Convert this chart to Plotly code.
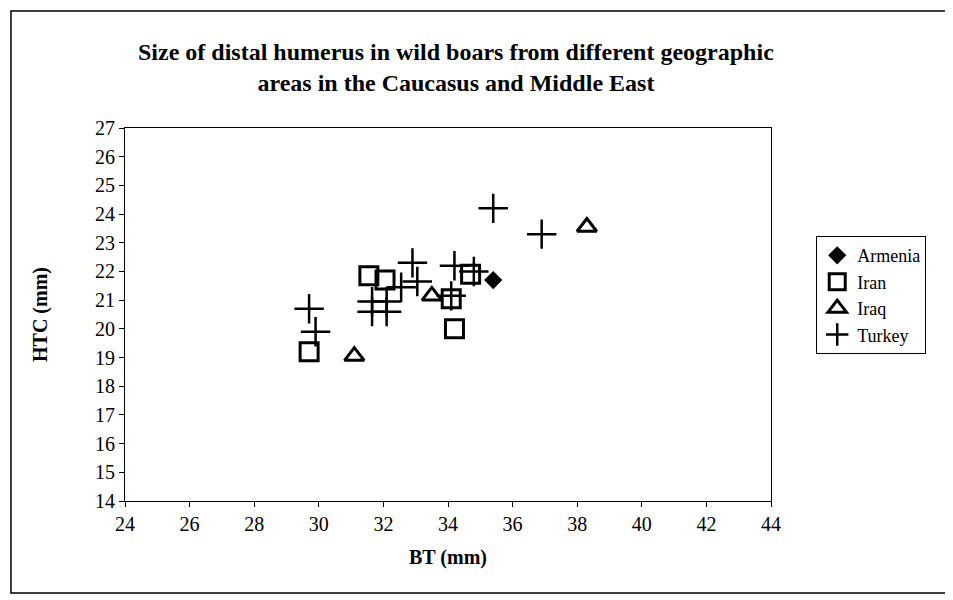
import plotly.graph_objects as go

# BT (mm) and HTC (mm)
armenia_bt = [35.4]
armenia_htc = [21.7]

iran_bt = [29.7, 31.55, 32.05, 34.1, 34.2, 34.7]
iran_htc = [19.2, 21.85, 21.7, 21.05, 20.0, 21.9]

iraq_bt = [31.1, 33.5, 38.3]
iraq_htc = [19.05, 21.15, 23.55]

turkey_bt = [29.7, 29.9, 35.4, 36.9, 31.65, 32.1, 31.65, 32.1, 32.9, 33.05, 32.55, 34.1, 34.2, 34.8]
turkey_htc = [20.7, 19.9, 24.2, 23.3, 20.95, 20.95, 20.6, 20.6, 22.3, 21.65, 21.45, 21.15, 22.2, 22.0]

font = "Liberation Serif, Times New Roman, serif"

fig = go.Figure()
fig.add_trace(go.Scatter(x=armenia_bt, y=armenia_htc, mode="markers", name="Armenia",
                         marker=dict(symbol="diamond", size=14, color="black")))
fig.add_trace(go.Scatter(x=iran_bt, y=iran_htc, mode="markers", name="Iran",
                         marker=dict(symbol="square-open", size=18, color="black",
                                     line=dict(width=3, color="black"))))
fig.add_trace(go.Scatter(x=iraq_bt, y=iraq_htc, mode="markers", name="Iraq",
                         marker=dict(symbol="triangle-up-open", size=17, color="black",
                                     line=dict(width=3, color="black"))))
fig.add_trace(go.Scatter(x=turkey_bt, y=turkey_htc, mode="markers", name="Turkey",
                         marker=dict(symbol="cross-thin-open", size=21, color="black",
                                     line=dict(width=2.5, color="black"))))

axis_common = dict(showgrid=False, zeroline=False, showline=True, linecolor="black",
                   linewidth=1, mirror=True, ticks="outside", ticklen=5,
                   tickcolor="black", tickfont=dict(family=font, size=20, color="black"))

fig.update_xaxes(range=[24, 44], dtick=2, tick0=24,
                 title=dict(text="<b>BT (mm)</b>", font=dict(family=font, size=20, color="black"),
                            standoff=15),
                 **axis_common)
fig.update_yaxes(range=[14, 27], dtick=1, tick0=14,
                 title=dict(text="<b>HTC (mm)</b>", font=dict(family=font, size=20, color="black"),
                            standoff=42),
                 **axis_common)

fig.update_layout(
    width=953, height=600,
    margin=dict(l=117, r=190, t=120, b=107),
    paper_bgcolor="white", plot_bgcolor="white",
    font=dict(family=font, color="black"),
    title=dict(text="<b>Size of distal humerus in wild boars from different geographic<br>"
                    "areas in the Caucasus and Middle East</b>",
               x=0.47, xanchor="center", y=0.913, yanchor="middle",
               font=dict(family=font, size=24, color="black")),
    legend=dict(x=1.07, y=0.71, xanchor="left", yanchor="top",
                bordercolor="black", borderwidth=1, bgcolor="white",
                font=dict(family=font, size=18, color="black"),
                itemsizing="trace", tracegroupgap=0, itemwidth=30),
    showlegend=True,
)

# outer chart border
fig.add_shape(type="rect", xref="paper", yref="paper",
              x0=-0.1765, x1=1.293, y0=-0.2466, y1=1.3137,
              line=dict(color="black", width=1.5), layer="below")

fig.write_html("out.html")
